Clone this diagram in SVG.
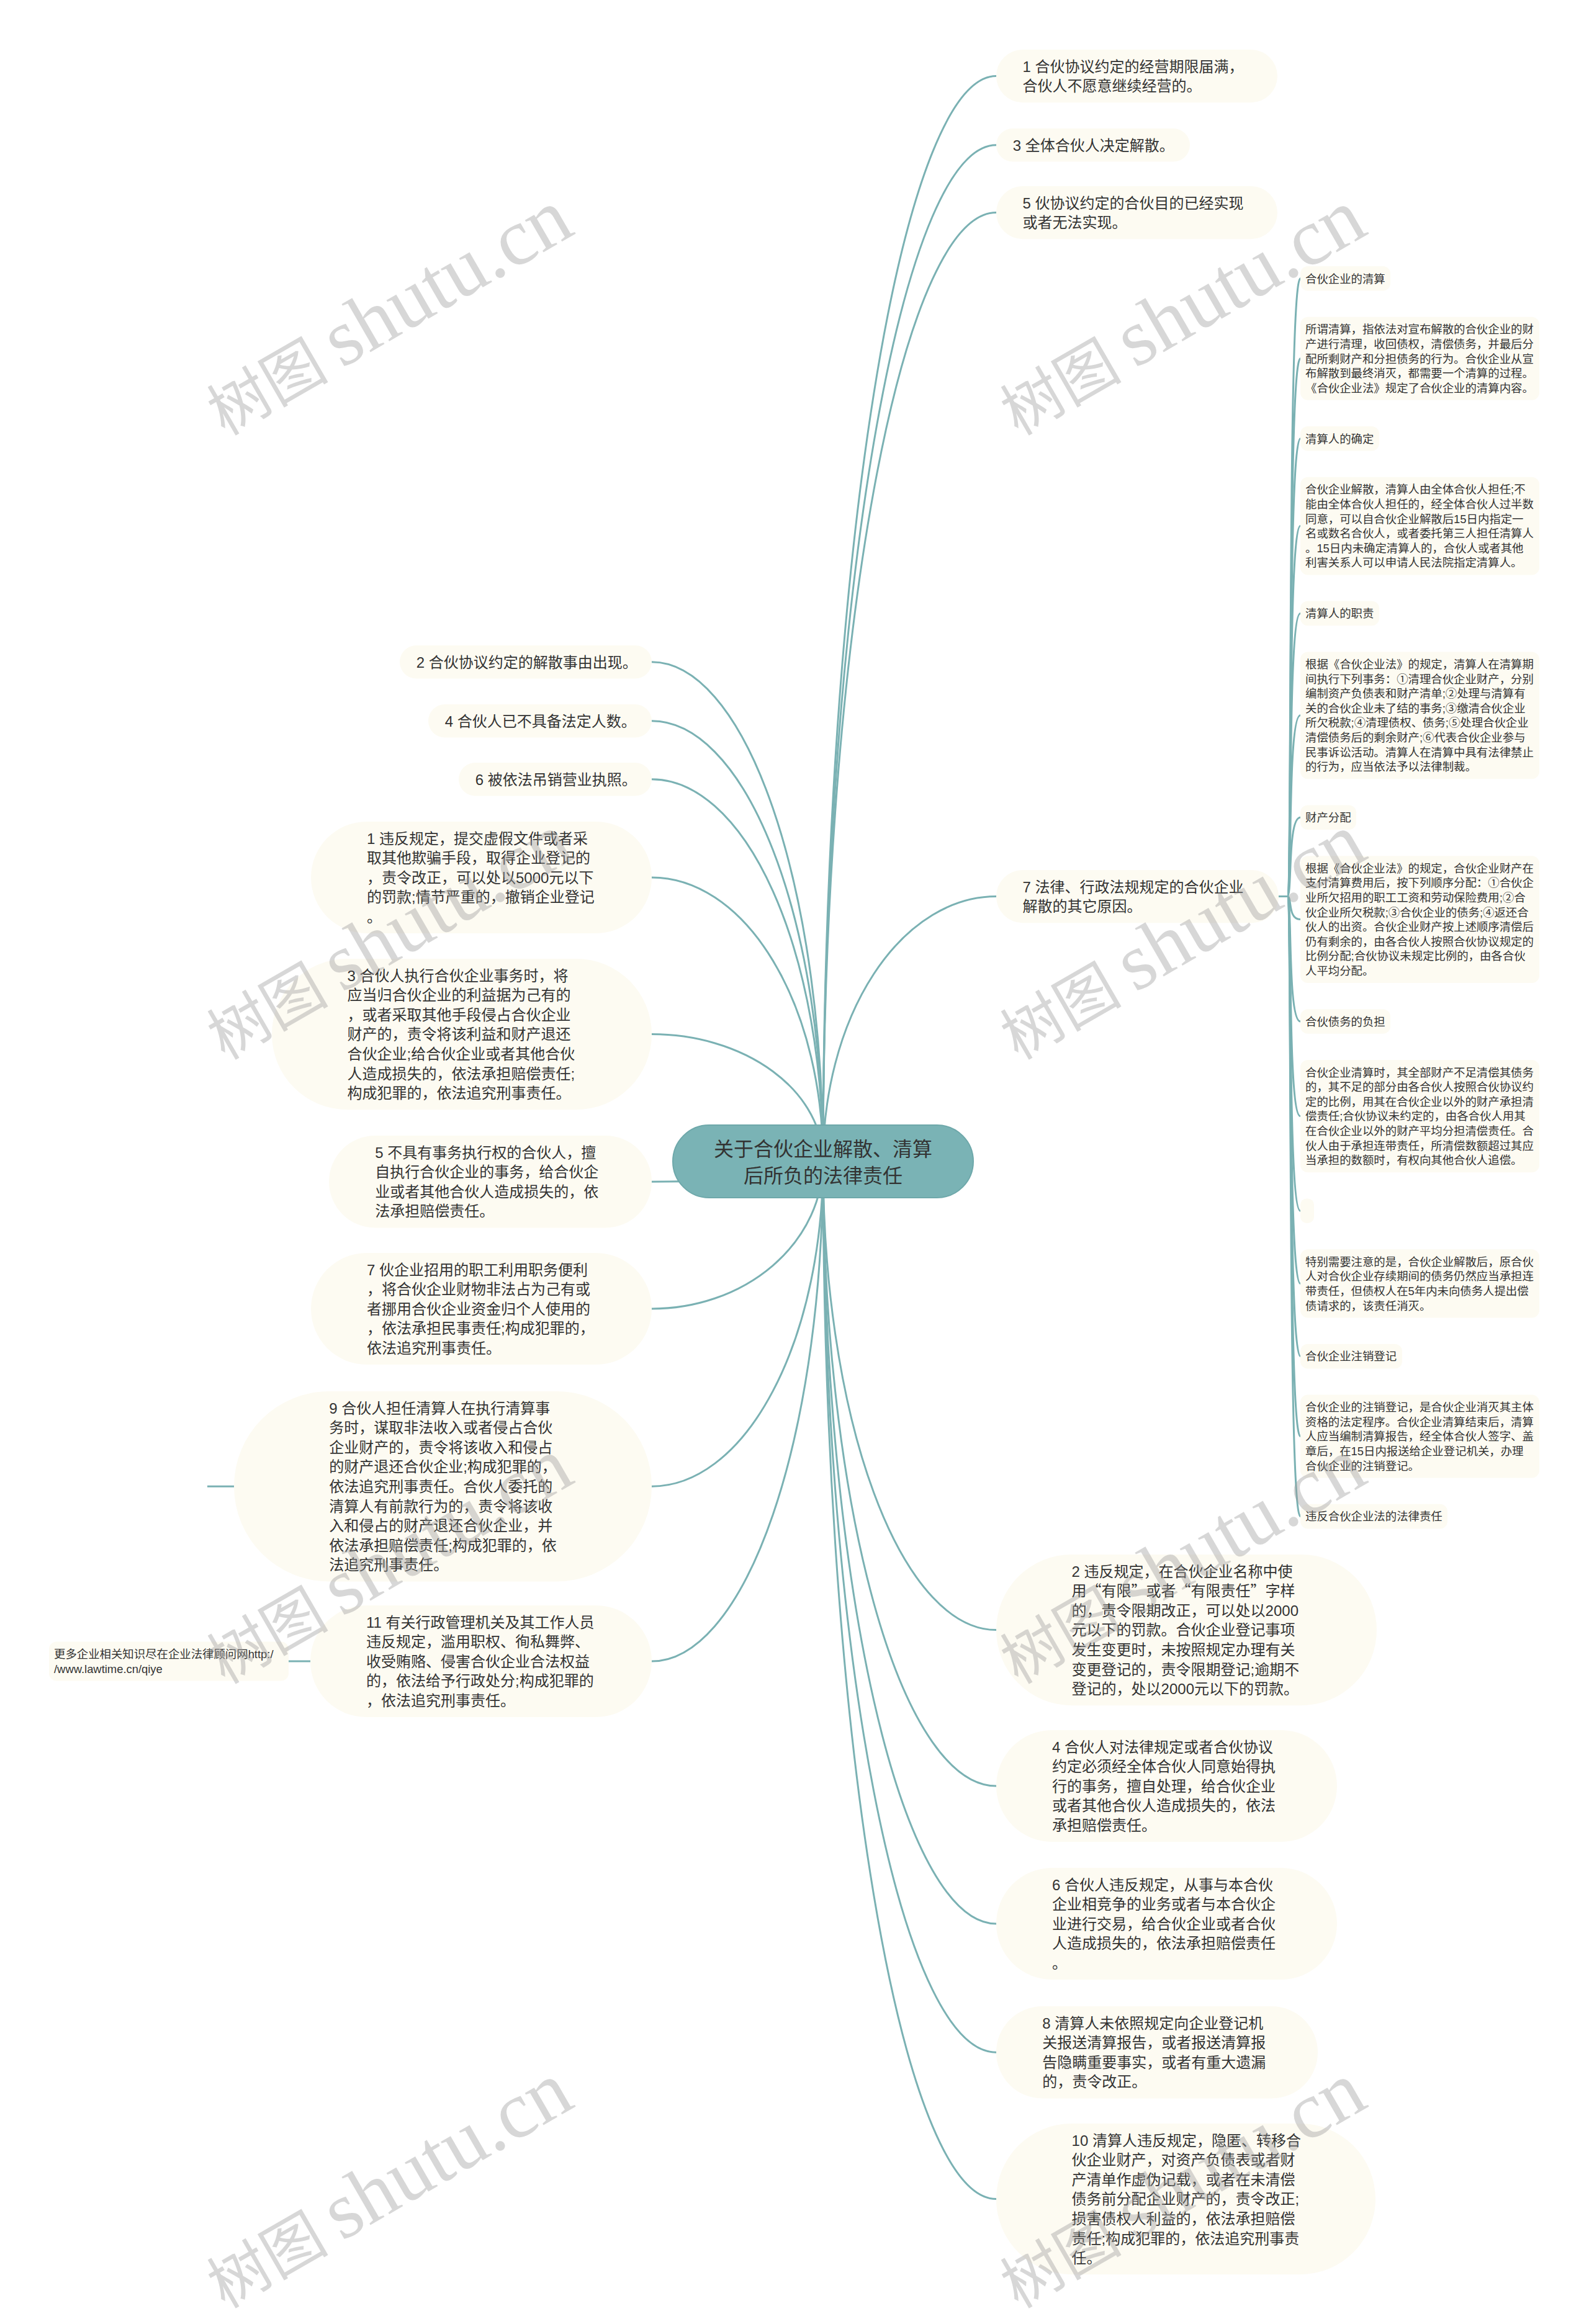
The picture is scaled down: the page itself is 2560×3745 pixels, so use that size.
<svg xmlns="http://www.w3.org/2000/svg" width="2560" height="3745" viewBox="0 0 2560 3745">
<style>
text{font-family:"Liberation Sans","Noto Sans CJK SC",sans-serif;fill:#333}
.t1{font-size:24px}
.t2{font-size:18.4px}
.t0{font-size:32px;text-anchor:middle}
.n1{fill:#fdfbf2}
.n0{fill:#7ab3b5;stroke:#6ea8aa;stroke-width:2}
.c{fill:none;stroke:#7ab1b3;stroke-width:3}
.q{font-family:"Noto Sans CJK SC",sans-serif}
.wm{font-family:"Liberation Serif","Noto Sans CJK SC",serif;fill:#9a9a9a;fill-opacity:0.4}
</style>
<rect width="2560" height="3745" fill="#ffffff"/>
<g id="connectors">
<path class="c" d="M1326 1871A279 1748.4 0 0 1 1605 122.6"/>
<path class="c" d="M1326 1871A279 1637.2 0 0 1 1605 233.8"/>
<path class="c" d="M1326 1871A279 1528.4 0 0 1 1605 342.6"/>
<path class="c" d="M1326 1871A279 426.4 0 0 1 1605 1444.6"/>
<path class="c" d="M1326 1871A279 755.6 0 0 0 1605 2626.6"/>
<path class="c" d="M1326 1871A279 1007 0 0 0 1605 2878"/>
<path class="c" d="M1326 1871A279 1229 0 0 0 1605 3100"/>
<path class="c" d="M1326 1871A279 1436.2 0 0 0 1605 3307.2"/>
<path class="c" d="M1326 1871A279 1672.6 0 0 0 1605 3543.6"/>
<path class="c" d="M1326 1871A276 804.2 0 0 0 1050 1066.8"/>
<path class="c" d="M1326 1871A276 709.2 0 0 0 1050 1161.8"/>
<path class="c" d="M1326 1871A276 615.2 0 0 0 1050 1255.8"/>
<path class="c" d="M1326 1871A276 457 0 0 0 1050 1414"/>
<path class="c" d="M1326 1871A276 204.4 0 0 0 1050 1666.6"/>
<path class="c" d="M1326 1871A276 33.2 0 0 1 1050 1904.2"/>
<path class="c" d="M1326 1871A276 238 0 0 1 1050 2109"/>
<path class="c" d="M1326 1871A276 524.2 0 0 1 1050 2395.2"/>
<path class="c" d="M1326 1871A276 806 0 0 1 1050 2677"/>
<path class="c" d="M377 2395.2H334"/>
<path class="c" d="M500 2677H465"/>
<path class="c" d="M2060 1444.6H2074C2082 1444.6 2074 448.8 2095 448.8"/>
<path class="c" d="M2060 1444.6H2074C2082 1444.6 2074 577.8 2095 577.8"/>
<path class="c" d="M2060 1444.6H2074C2082 1444.6 2074 706.8 2095 706.8"/>
<path class="c" d="M2060 1444.6H2074C2082 1444.6 2074 847.6 2095 847.6"/>
<path class="c" d="M2060 1444.6H2074C2082 1444.6 2074 988.4 2095 988.4"/>
<path class="c" d="M2060 1444.6H2074C2082 1444.6 2074 1152.8 2095 1152.8"/>
<path class="c" d="M2060 1444.6H2074C2082 1444.6 2074 1317.2 2095 1317.2"/>
<path class="c" d="M2060 1444.6H2074C2082 1444.6 2074 1481.6 2095 1481.6"/>
<path class="c" d="M2060 1444.6H2074C2082 1444.6 2074 1646 2095 1646"/>
<path class="c" d="M2060 1444.6H2074C2082 1444.6 2074 1798.6 2095 1798.6"/>
<path class="c" d="M2060 1444.6H2074C2082 1444.6 2074 1951.2 2095 1951.2"/>
<path class="c" d="M2060 1444.6H2074C2082 1444.6 2074 2068.4 2095 2068.4"/>
<path class="c" d="M2060 1444.6H2074C2082 1444.6 2074 2185.6 2095 2185.6"/>
<path class="c" d="M2060 1444.6H2074C2082 1444.6 2074 2314.6 2095 2314.6"/>
<path class="c" d="M2060 1444.6H2074C2082 1444.6 2074 2443.6 2095 2443.6"/>
</g>
<g id="root">
<rect class="n0" x="1084" y="1813" width="484" height="117" rx="58.5"/>
<text class="t0"><tspan x="1326" y="1863">关于合伙企业解散、清算</tspan><tspan x="1326" y="1906">后所负的法律责任</tspan></text>
</g>
<g id="r1"><rect class="n1" x="1605" y="80" width="453" height="85.2" rx="42.6"/>
<text class="t1"><tspan x="1647.6" y="115.5">1 合伙协议约定的经营期限届满，</tspan><tspan x="1647.6" y="147.1">合伙人不愿意继续经营的。</tspan></text></g>
<g id="r3"><rect class="n1" x="1605" y="207" width="312" height="53.6" rx="26.8"/>
<text class="t1" x="1631.8" y="242.5">3 全体合伙人决定解散。</text></g>
<g id="r5"><rect class="n1" x="1605" y="300" width="453" height="85.2" rx="42.6"/>
<text class="t1"><tspan x="1647.6" y="335.5">5 伙协议约定的合伙目的已经实现</tspan><tspan x="1647.6" y="367.1">或者无法实现。</tspan></text></g>
<g id="r7"><rect class="n1" x="1605" y="1402" width="455" height="85.2" rx="42.6"/>
<text class="t1"><tspan x="1647.6" y="1437.5">7 法律、行政法规规定的合伙企业</tspan><tspan x="1647.6" y="1469.1">解散的其它原因。</tspan></text></g>
<g id="rb2"><rect class="n1" x="1605" y="2505" width="613" height="243.2" rx="121.6"/>
<text class="t1"><tspan x="1726.6" y="2540.5">2 违反规定，在合伙企业名称中使</tspan><tspan class="q" x="1726.6" y="2572.1">用“有限”或者“有限责任”字样</tspan><tspan x="1726.6" y="2603.7">的，责令限期改正，可以处以2000</tspan><tspan x="1726.6" y="2635.3">元以下的罚款。合伙企业登记事项</tspan><tspan x="1726.6" y="2666.9">发生变更时，未按照规定办理有关</tspan><tspan x="1726.6" y="2698.5">变更登记的，责令限期登记;逾期不</tspan><tspan x="1726.6" y="2730.1">登记的，处以2000元以下的罚款。</tspan></text></g>
<g id="rb4"><rect class="n1" x="1605" y="2788" width="549" height="180" rx="90"/>
<text class="t1"><tspan x="1695" y="2823.5">4 合伙人对法律规定或者合伙协议</tspan><tspan x="1695" y="2855.1">约定必须经全体合伙人同意始得执</tspan><tspan x="1695" y="2886.7">行的事务，擅自处理，给合伙企业</tspan><tspan x="1695" y="2918.3">或者其他合伙人造成损失的，依法</tspan><tspan x="1695" y="2949.9">承担赔偿责任。</tspan></text></g>
<g id="rb6"><rect class="n1" x="1605" y="3010" width="549" height="180" rx="90"/>
<text class="t1"><tspan x="1695" y="3045.5">6 合伙人违反规定，从事与本合伙</tspan><tspan x="1695" y="3077.1">企业相竞争的业务或者与本合伙企</tspan><tspan x="1695" y="3108.7">业进行交易，给合伙企业或者合伙</tspan><tspan x="1695" y="3140.3">人造成损失的，依法承担赔偿责任</tspan><tspan x="1695" y="3171.9">。</tspan></text></g>
<g id="rb8"><rect class="n1" x="1605" y="3233" width="518" height="148.4" rx="74.2"/>
<text class="t1"><tspan x="1679.2" y="3268.5">8 清算人未依照规定向企业登记机</tspan><tspan x="1679.2" y="3300.1">关报送清算报告，或者报送清算报</tspan><tspan x="1679.2" y="3331.7">告隐瞒重要事实，或者有重大遗漏</tspan><tspan x="1679.2" y="3363.3">的，责令改正。</tspan></text></g>
<g id="rb10"><rect class="n1" x="1605" y="3422" width="611" height="243.2" rx="121.6"/>
<text class="t1"><tspan x="1726.6" y="3457.5">10 清算人违反规定，隐匿、转移合</tspan><tspan x="1726.6" y="3489.1">伙企业财产，对资产负债表或者财</tspan><tspan x="1726.6" y="3520.7">产清单作虚伪记载，或者在未清偿</tspan><tspan x="1726.6" y="3552.3">债务前分配企业财产的，责令改正;</tspan><tspan x="1726.6" y="3583.9">损害债权人利益的，依法承担赔偿</tspan><tspan x="1726.6" y="3615.5">责任;构成犯罪的，依法追究刑事责</tspan><tspan x="1726.6" y="3647.1">任。</tspan></text></g>
<g id="l2"><rect class="n1" x="644" y="1040" width="406" height="53.6" rx="26.8"/>
<text class="t1" x="670.8" y="1075.5">2 合伙协议约定的解散事由出现。</text></g>
<g id="l4"><rect class="n1" x="690" y="1135" width="360" height="53.6" rx="26.8"/>
<text class="t1" x="716.8" y="1170.5">4 合伙人已不具备法定人数。</text></g>
<g id="l6"><rect class="n1" x="739" y="1229" width="311" height="53.6" rx="26.8"/>
<text class="t1" x="765.8" y="1264.5">6 被依法吊销营业执照。</text></g>
<g id="l1"><rect class="n1" x="501" y="1324" width="549" height="180" rx="90"/>
<text class="t1"><tspan x="591" y="1359.5">1 违反规定，提交虚假文件或者采</tspan><tspan x="591" y="1391.1">取其他欺骗手段，取得企业登记的</tspan><tspan x="591" y="1422.7">，责令改正，可以处以5000元以下</tspan><tspan x="591" y="1454.3">的罚款;情节严重的，撤销企业登记</tspan><tspan x="591" y="1485.9">。</tspan></text></g>
<g id="l3"><rect class="n1" x="438" y="1545" width="612" height="243.2" rx="121.6"/>
<text class="t1"><tspan x="559.6" y="1580.5">3 合伙人执行合伙企业事务时，将</tspan><tspan x="559.6" y="1612.1">应当归合伙企业的利益据为己有的</tspan><tspan x="559.6" y="1643.7">，或者采取其他手段侵占合伙企业</tspan><tspan x="559.6" y="1675.3">财产的，责令将该利益和财产退还</tspan><tspan x="559.6" y="1706.9">合伙企业;给合伙企业或者其他合伙</tspan><tspan x="559.6" y="1738.5">人造成损失的，依法承担赔偿责任;</tspan><tspan x="559.6" y="1770.1">构成犯罪的，依法追究刑事责任。</tspan></text></g>
<g id="l5"><rect class="n1" x="530" y="1830" width="520" height="148.4" rx="74.2"/>
<text class="t1"><tspan x="604.2" y="1865.5">5 不具有事务执行权的合伙人，擅</tspan><tspan x="604.2" y="1897.1">自执行合伙企业的事务，给合伙企</tspan><tspan x="604.2" y="1928.7">业或者其他合伙人造成损失的，依</tspan><tspan x="604.2" y="1960.3">法承担赔偿责任。</tspan></text></g>
<g id="l7"><rect class="n1" x="501" y="2019" width="549" height="180" rx="90"/>
<text class="t1"><tspan x="591" y="2054.5">7 伙企业招用的职工利用职务便利</tspan><tspan x="591" y="2086.1">，将合伙企业财物非法占为己有或</tspan><tspan x="591" y="2117.7">者挪用合伙企业资金归个人使用的</tspan><tspan x="591" y="2149.3">，依法承担民事责任;构成犯罪的，</tspan><tspan x="591" y="2180.9">依法追究刑事责任。</tspan></text></g>
<g id="l9"><rect class="n1" x="377" y="2242" width="673" height="306.4" rx="153.2"/>
<text class="t1"><tspan x="530.2" y="2277.5">9 合伙人担任清算人在执行清算事</tspan><tspan x="530.2" y="2309.1">务时，谋取非法收入或者侵占合伙</tspan><tspan x="530.2" y="2340.7">企业财产的，责令将该收入和侵占</tspan><tspan x="530.2" y="2372.3">的财产退还合伙企业;构成犯罪的，</tspan><tspan x="530.2" y="2403.9">依法追究刑事责任。合伙人委托的</tspan><tspan x="530.2" y="2435.5">清算人有前款行为的，责令将该收</tspan><tspan x="530.2" y="2467.1">入和侵占的财产退还合伙企业，并</tspan><tspan x="530.2" y="2498.7">依法承担赔偿责任;构成犯罪的，依</tspan><tspan x="530.2" y="2530.3">法追究刑事责任。</tspan></text></g>
<g id="l11"><rect class="n1" x="500" y="2587" width="550" height="180" rx="90"/>
<text class="t1"><tspan x="590" y="2622.5">11 有关行政管理机关及其工作人员</tspan><tspan x="590" y="2654.1">违反规定，滥用职权、徇私舞弊、</tspan><tspan x="590" y="2685.7">收受贿赂、侵害合伙企业合法权益</tspan><tspan x="590" y="2717.3">的，依法给予行政处分;构成犯罪的</tspan><tspan x="590" y="2748.9">，依法追究刑事责任。</tspan></text></g>
<g id="l11a"><rect class="n1" x="79" y="2645.4" width="386" height="63.2" rx="12"/>
<text class="t2"><tspan x="87" y="2671.9">更多企业相关知识尽在企业法律顾问网http:/</tspan><tspan x="87" y="2695.5">/www.lawtime.cn/qiye</tspan></text></g>
<g id="c1"><rect class="n1" x="2095" y="429" width="145" height="39.6" rx="12"/>
<text class="t2" x="2103" y="455.5">合伙企业的清算</text></g>
<g id="c2"><rect class="n1" x="2095" y="510.8" width="385" height="134" rx="12"/>
<text class="t2"><tspan x="2103" y="537.3">所谓清算，指依法对宣布解散的合伙企业的财</tspan><tspan x="2103" y="560.9">产进行清理，收回债权，清偿债务，并最后分</tspan><tspan x="2103" y="584.5">配所剩财产和分担债务的行为。合伙企业从宣</tspan><tspan x="2103" y="608.1">布解散到最终消灭，都需要一个清算的过程。</tspan><tspan x="2103" y="631.7">《合伙企业法》规定了合伙企业的清算内容。</tspan></text></g>
<g id="c3"><rect class="n1" x="2095" y="687" width="127" height="39.6" rx="12"/>
<text class="t2" x="2103" y="713.5">清算人的确定</text></g>
<g id="c4"><rect class="n1" x="2095" y="768.8" width="385" height="157.6" rx="12"/>
<text class="t2"><tspan x="2103" y="795.3">合伙企业解散，清算人由全体合伙人担任;不</tspan><tspan x="2103" y="818.9">能由全体合伙人担任的，经全体合伙人过半数</tspan><tspan x="2103" y="842.5">同意，可以自合伙企业解散后15日内指定一</tspan><tspan x="2103" y="866.1">名或数名合伙人，或者委托第三人担任清算人</tspan><tspan x="2103" y="889.7">。15日内未确定清算人的，合伙人或者其他</tspan><tspan x="2103" y="913.3">利害关系人可以申请人民法院指定清算人。</tspan></text></g>
<g id="c5"><rect class="n1" x="2095" y="968.6" width="127" height="39.6" rx="12"/>
<text class="t2" x="2103" y="995.1">清算人的职责</text></g>
<g id="c6"><rect class="n1" x="2095" y="1050.4" width="385" height="204.8" rx="12"/>
<text class="t2"><tspan x="2103" y="1076.9">根据《合伙企业法》的规定，清算人在清算期</tspan><tspan x="2103" y="1100.5">间执行下列事务：①清理合伙企业财产，分别</tspan><tspan x="2103" y="1124.1">编制资产负债表和财产清单;②处理与清算有</tspan><tspan x="2103" y="1147.7">关的合伙企业未了结的事务;③缴清合伙企业</tspan><tspan x="2103" y="1171.3">所欠税款;④清理债权、债务;⑤处理合伙企业</tspan><tspan x="2103" y="1194.9">清偿债务后的剩余财产;⑥代表合伙企业参与</tspan><tspan x="2103" y="1218.5">民事诉讼活动。清算人在清算中具有法律禁止</tspan><tspan x="2103" y="1242.1">的行为，应当依法予以法律制裁。</tspan></text></g>
<g id="c7"><rect class="n1" x="2095" y="1297.4" width="90" height="39.6" rx="12"/>
<text class="t2" x="2103" y="1323.9">财产分配</text></g>
<g id="c8"><rect class="n1" x="2095" y="1379.2" width="385" height="204.8" rx="12"/>
<text class="t2"><tspan x="2103" y="1405.7">根据《合伙企业法》的规定，合伙企业财产在</tspan><tspan x="2103" y="1429.3">支付清算费用后，按下列顺序分配：①合伙企</tspan><tspan x="2103" y="1452.9">业所欠招用的职工工资和劳动保险费用;②合</tspan><tspan x="2103" y="1476.5">伙企业所欠税款;③合伙企业的债务;④返还合</tspan><tspan x="2103" y="1500.1">伙人的出资。合伙企业财产按上述顺序清偿后</tspan><tspan x="2103" y="1523.7">仍有剩余的，由各合伙人按照合伙协议规定的</tspan><tspan x="2103" y="1547.3">比例分配;合伙协议未规定比例的，由各合伙</tspan><tspan x="2103" y="1570.9">人平均分配。</tspan></text></g>
<g id="c9"><rect class="n1" x="2095" y="1626.2" width="145" height="39.6" rx="12"/>
<text class="t2" x="2103" y="1652.7">合伙债务的负担</text></g>
<g id="c10"><rect class="n1" x="2095" y="1708" width="385" height="181.2" rx="12"/>
<text class="t2"><tspan x="2103" y="1734.5">合伙企业清算时，其全部财产不足清偿其债务</tspan><tspan x="2103" y="1758.1">的，其不足的部分由各合伙人按照合伙协议约</tspan><tspan x="2103" y="1781.7">定的比例，用其在合伙企业以外的财产承担清</tspan><tspan x="2103" y="1805.3">偿责任;合伙协议未约定的，由各合伙人用其</tspan><tspan x="2103" y="1828.9">在合伙企业以外的财产平均分担清偿责任。合</tspan><tspan x="2103" y="1852.5">伙人由于承担连带责任，所清偿数额超过其应</tspan><tspan x="2103" y="1876.1">当承担的数额时，有权向其他合伙人追偿。</tspan></text></g>
<g id="c11"><rect class="n1" x="2095" y="1931.4" width="22" height="39.6" rx="10"/></g>
<g id="c12"><rect class="n1" x="2095" y="2013.2" width="385" height="110.4" rx="12"/>
<text class="t2"><tspan x="2103" y="2039.7">特别需要注意的是，合伙企业解散后，原合伙</tspan><tspan x="2103" y="2063.3">人对合伙企业存续期间的债务仍然应当承担连</tspan><tspan x="2103" y="2086.9">带责任，但债权人在5年内未向债务人提出偿</tspan><tspan x="2103" y="2110.5">债请求的，该责任消灭。</tspan></text></g>
<g id="c13"><rect class="n1" x="2095" y="2165.8" width="164" height="39.6" rx="12"/>
<text class="t2" x="2103" y="2192.3">合伙企业注销登记</text></g>
<g id="c14"><rect class="n1" x="2095" y="2247.6" width="385" height="134" rx="12"/>
<text class="t2"><tspan x="2103" y="2274.1">合伙企业的注销登记，是合伙企业消灭其主体</tspan><tspan x="2103" y="2297.7">资格的法定程序。合伙企业清算结束后，清算</tspan><tspan x="2103" y="2321.3">人应当编制清算报告，经全体合伙人签字、盖</tspan><tspan x="2103" y="2344.9">章后，在15日内报送给企业登记机关，办理</tspan><tspan x="2103" y="2368.5">合伙企业的注销登记。</tspan></text></g>
<g id="c15"><rect class="n1" x="2095" y="2423.8" width="237" height="39.6" rx="12"/>
<text class="t2" x="2103" y="2450.3">违反合伙企业法的法律责任</text></g>
<g id="watermarks">
<text class="wm" transform="translate(362 703) rotate(-30)"><tspan font-size="98">树图</tspan><tspan font-size="130" dx="22">shutu.cn</tspan></text>
<text class="wm" transform="translate(1640 703) rotate(-30)"><tspan font-size="98">树图</tspan><tspan font-size="130" dx="22">shutu.cn</tspan></text>
<text class="wm" transform="translate(362 1709) rotate(-30)"><tspan font-size="98">树图</tspan><tspan font-size="130" dx="22">shutu.cn</tspan></text>
<text class="wm" transform="translate(1640 1709) rotate(-30)"><tspan font-size="98">树图</tspan><tspan font-size="130" dx="22">shutu.cn</tspan></text>
<text class="wm" transform="translate(362 2715) rotate(-30)"><tspan font-size="98">树图</tspan><tspan font-size="130" dx="22">shutu.cn</tspan></text>
<text class="wm" transform="translate(1640 2715) rotate(-30)"><tspan font-size="98">树图</tspan><tspan font-size="130" dx="22">shutu.cn</tspan></text>
<text class="wm" transform="translate(362 3721) rotate(-30)"><tspan font-size="98">树图</tspan><tspan font-size="130" dx="22">shutu.cn</tspan></text>
<text class="wm" transform="translate(1640 3721) rotate(-30)"><tspan font-size="98">树图</tspan><tspan font-size="130" dx="22">shutu.cn</tspan></text>
</g>
</svg>
